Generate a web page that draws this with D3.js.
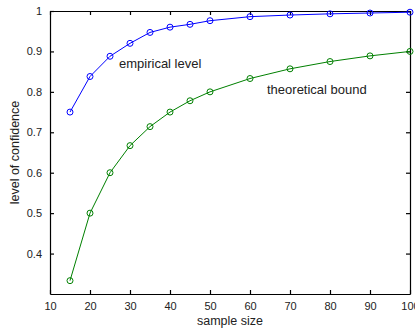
<!DOCTYPE html>
<html>
<head>
<meta charset="utf-8">
<script src="https://cdn.jsdelivr.net/npm/d3@7"></script>
<style>
  body { margin: 0; background: #fff; }
  text { font-family: "Liberation Sans", Arial, sans-serif; fill: #222; }
</style>
</head>
<body>
<div id="chart"></div>
<script>
// sample sizes
const sampleSizes = [15, 20, 25, 30, 35, 40, 45, 50, 60, 70, 80, 90, 100];
// empirical confidence level
const empirical = [0.75, 0.838, 0.888, 0.92, 0.947, 0.96, 0.967, 0.976, 0.986, 0.99, 0.993, 0.995, 0.997];
// theoretical bound
const theoretical = [0.333, 0.5, 0.6, 0.667, 0.714, 0.75, 0.778, 0.8, 0.833, 0.857, 0.875, 0.889, 0.9];
const xTicks = [10, 20, 30, 40, 50, 60, 70, 80, 90, 100];
const yTicks = [0.4, 0.5, 0.6, 0.7, 0.8, 0.9, 1];

const width = 415, height = 329;
const plotLeft = 50, plotRight = 410, plotTop = 11, plotBottom = 294;

const svg = d3.select("#chart")
  .append("svg")
  .attr("width", width)
  .attr("height", height);

const x = d3.scaleLinear().domain([10, 100]).range([plotLeft, plotRight]);
const y = d3.scaleLinear().domain([0.3, 1]).range([plotBottom, plotTop]);

// box axes, ticks pointing inwards (matlab style)
const fmtY = d => d === 1 ? "1" : d3.format(".1f")(d);

svg.append("g")
  .attr("transform", "translate(0," + plotBottom + ")")
  .call(d3.axisBottom(x).tickValues(xTicks).tickSizeInner(-4).tickSizeOuter(0).tickPadding(8))
  .call(g => g.selectAll("text").style("font-size", "11px"));

svg.append("g")
  .attr("transform", "translate(0," + plotTop + ")")
  .call(d3.axisTop(x).tickValues(xTicks).tickSizeInner(-4).tickSizeOuter(0).tickFormat(""));

svg.append("g")
  .attr("transform", "translate(" + plotLeft + ",0)")
  .call(d3.axisLeft(y).tickValues(yTicks).tickSizeInner(-4).tickSizeOuter(0).tickPadding(8).tickFormat(fmtY))
  .call(g => g.selectAll("text").style("font-size", "11px"));

svg.append("g")
  .attr("transform", "translate(" + plotRight + ",0)")
  .call(d3.axisRight(y).tickValues(yTicks).tickSizeInner(-4).tickSizeOuter(0).tickFormat(""));

svg.selectAll(".domain, .tick line").attr("stroke", "#000").attr("stroke-width", 1.2);

// series
const series = [
  { values: empirical, color: "#0000ff" },
  { values: theoretical, color: "#008000" }
];

const line = d3.line()
  .x((d, i) => x(sampleSizes[i]))
  .y(d => y(d));

series.forEach(s => {
  svg.append("path")
    .datum(s.values)
    .attr("fill", "none")
    .attr("stroke", s.color)
    .attr("stroke-width", 1)
    .attr("d", line);

  svg.selectAll(null)
    .data(s.values)
    .enter()
    .append("circle")
    .attr("cx", (d, i) => x(sampleSizes[i]))
    .attr("cy", d => y(d))
    .attr("r", 3)
    .attr("fill", "none")
    .attr("stroke", s.color)
    .attr("stroke-width", 1);
});

// annotations
svg.append("text")
  .attr("x", 119).attr("y", 68)
  .style("font-size", "13px")
  .text("empirical level");

svg.append("text")
  .attr("x", 267).attr("y", 94)
  .style("font-size", "13px")
  .text("theoretical bound");

// axis titles
svg.append("text")
  .attr("x", (plotLeft + plotRight) / 2).attr("y", 325)
  .attr("text-anchor", "middle")
  .style("font-size", "12.5px")
  .text("sample size");

svg.append("text")
  .attr("transform", "translate(19," + (plotTop + plotBottom) / 2 + ")rotate(-90)")
  .attr("text-anchor", "middle")
  .style("font-size", "12.5px")
  .text("level of confidence");
</script>
</body>
</html>
